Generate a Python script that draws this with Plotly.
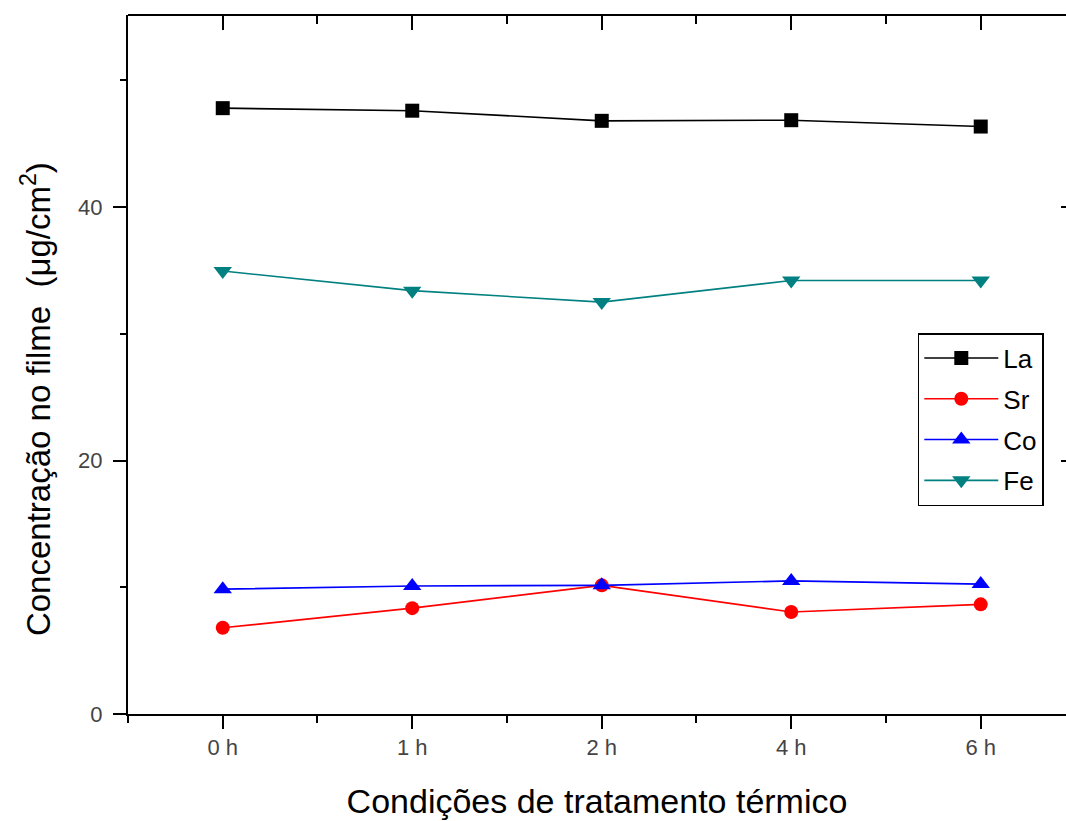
import plotly.graph_objects as go

categories = ["0 h", "1 h", "2 h", "4 h", "6 h"]
la = [47.8, 47.6, 46.8, 46.85, 46.35]
sr = [6.8, 8.35, 10.15, 8.05, 8.65]
co = [9.85, 10.1, 10.15, 10.5, 10.25]
fe = [34.95, 33.4, 32.5, 34.2, 34.2]

series = [
    ("La", la, "#000000", "square", 14),
    ("Sr", sr, "#ff0000", "circle", 14),
    ("Co", co, "#0000ff", "triangle-up", 16),
    ("Fe", fe, "#008080", "triangle-down", 16),
]

xpos = list(range(len(categories)))
FONT = "Liberation Sans, Arial, sans-serif"

fig = go.Figure()
for name, vals, color, sym, size in series:
    fig.add_trace(go.Scatter(
        x=xpos, y=vals, name=name, mode="lines+markers",
        legendgroup=name,
        line=dict(color=color, width=1.6),
        marker=dict(symbol=sym, size=size, color=color),
    ))

# invisible copy on the mirror axes so the top/right frame axes are drawn
fig.add_trace(go.Scatter(
    x=xpos, y=la, xaxis="x2", yaxis="y2", mode="markers",
    marker=dict(opacity=0), showlegend=False, hoverinfo="skip",
))

xr = [-0.5, 4.45]
yr = [0, 55.15]

fig.update_layout(
    width=1066, height=821,
    margin=dict(l=128, r=0, t=15, b=107),
    plot_bgcolor="white", paper_bgcolor="white",
    font=dict(family=FONT, color="#000000"),
    showlegend=True,
    legend=dict(
        x=0.842, y=0.545, xanchor="left", yanchor="top",
        bordercolor="#000000", borderwidth=1.5, bgcolor="white",
        font=dict(size=26, family=FONT, color="#000000"),
        tracegroupgap=4, itemwidth=74,
    ),
    xaxis=dict(
        range=xr, tickvals=xpos, ticktext=categories,
        showline=True, linecolor="#000000", linewidth=2,
        ticks="outside", ticklen=13, tickwidth=2, tickcolor="#000000",
        minor=dict(tickvals=[i + 0.5 for i in xpos[:-1]] + [-0.5], ticks="outside", ticklen=7, tickwidth=2, tickcolor="#000000", showgrid=False),
        showgrid=False, zeroline=False,
        tickfont=dict(size=22, color="#444444", family=FONT),
        title=dict(text="Condições de tratamento térmico", font=dict(size=34, color="#000000", family=FONT), standoff=30),
    ),
    yaxis=dict(
        range=yr, tickvals=[0, 20, 40],
        showline=True, linecolor="#000000", linewidth=2,
        ticks="outside", ticklen=13, tickwidth=2, tickcolor="#000000",
        minor=dict(tickvals=[10, 30, 50], ticks="outside", ticklen=6, tickwidth=2, tickcolor="#000000", showgrid=False),
        showgrid=False, zeroline=False, ticklabelstandoff=6,
        tickfont=dict(size=22, color="#444444", family=FONT),
    ),
    xaxis2=dict(
        overlaying="x", side="top", anchor="free", position=1, range=xr,
        tickvals=xpos, showticklabels=False,
        showline=True, linecolor="#000000", linewidth=2,
        ticks="inside", ticklen=14, tickwidth=2, tickcolor="#000000",
        minor=dict(tickvals=[i + 0.5 for i in xpos[:-1]], ticks="inside", ticklen=8, tickwidth=2, tickcolor="#000000", showgrid=False),
        showgrid=False, zeroline=False,
    ),
    yaxis2=dict(
        overlaying="y", side="right", anchor="x2", range=yr,
        tickvals=[20, 40], showticklabels=False, showline=False,
        ticks="inside", ticklen=5, tickwidth=2, tickcolor="#000000",
        showgrid=False, zeroline=False,
    ),
    annotations=[dict(
        text="Concentração no filme  (μg/cm<sup>2</sup>)",
        xref="paper", yref="paper", x=-0.098, y=0.4506,
        xanchor="center", yanchor="middle", textangle=-90, showarrow=False,
        font=dict(size=33, color="#000000", family=FONT),
    )],
)

fig.write_html("out.html", config={"displayModeBar": False},
               post_script="document.body.style.margin='0px';document.body.style.overflow='hidden';")
